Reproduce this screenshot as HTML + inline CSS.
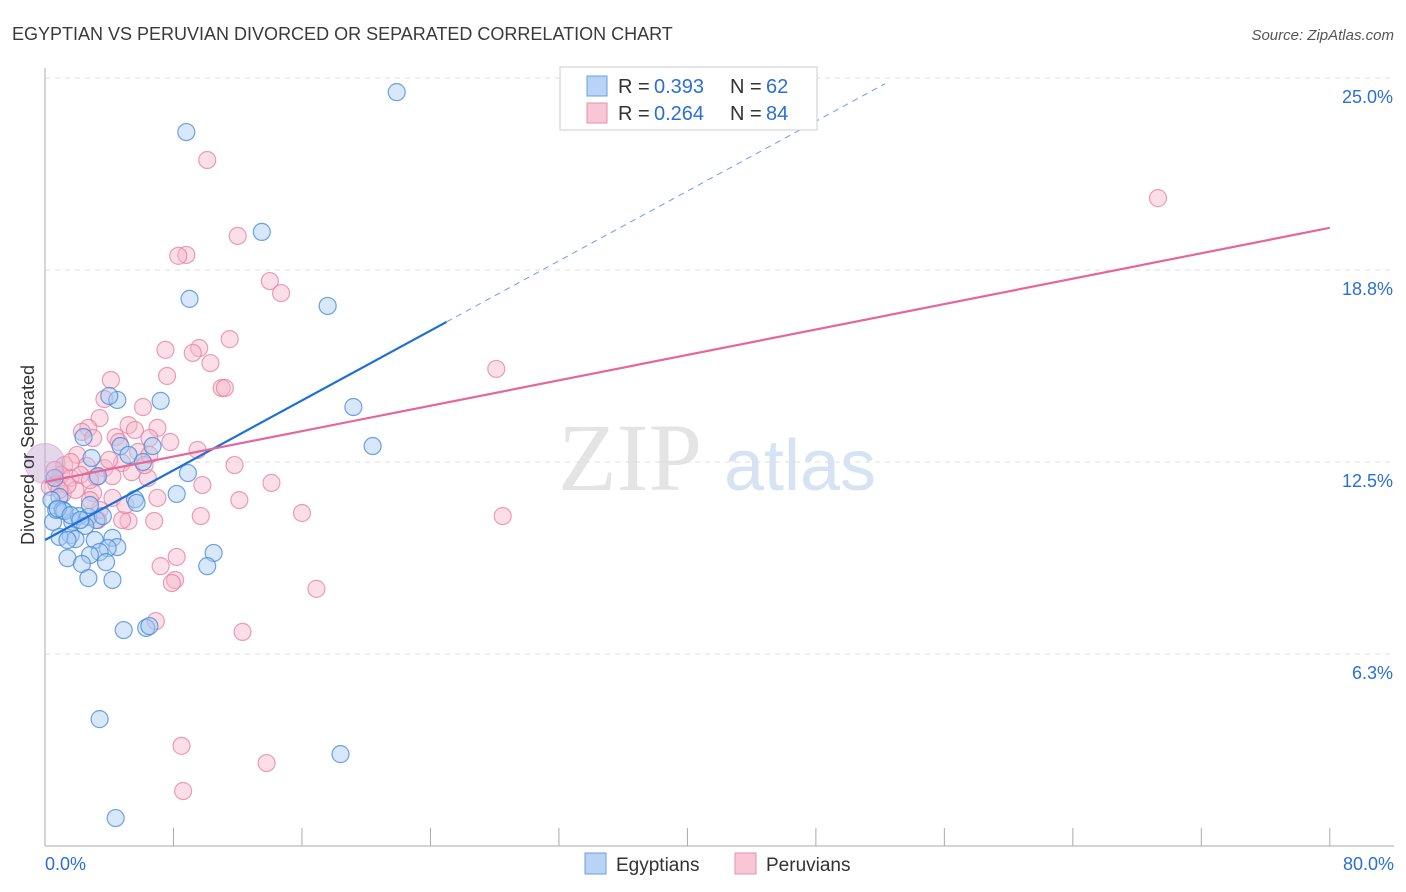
<!DOCTYPE html>
<html><head><meta charset="utf-8"><style>
body{margin:0;background:#fff;font-family:"Liberation Sans",sans-serif}
#wrap{position:relative;width:1406px;height:892px;overflow:hidden}
</style></head><body>
<div id="wrap">
<svg id="svg" width="1406" height="892" xmlns="http://www.w3.org/2000/svg">
<text x="12" y="40" font-size="18" fill="#3a3a3a">EGYPTIAN VS PERUVIAN DIVORCED OR SEPARATED CORRELATION CHART</text>
<text x="1394" y="40" font-size="15" fill="#555" text-anchor="end" font-style="italic">Source: ZipAtlas.com</text>
<text x="630" y="490" font-size="96" fill="#e4e4e4" font-family="Liberation Serif" text-anchor="middle">ZIP</text>
<text x="800" y="490" font-size="72" fill="#d6e3f3" text-anchor="middle">atlas</text>
<g id="grid"></g><g id="axes"></g><g id="pts"></g><g id="trend"></g>
<text transform="translate(34,455) rotate(-90)" font-size="18" fill="#333" text-anchor="middle">Divorced or Separated</text>
<g>
<rect x="560" y="67" width="257" height="63" fill="#fff" stroke="#ccc"/>
<rect x="587" y="76" width="20" height="20" fill="#b8d3f4" stroke="#6a9fe0"/>
<rect x="587" y="103" width="20" height="20" fill="#f9c6d6" stroke="#ea8fab"/>
<text x="618" y="93" font-size="20" fill="#333">R =</text>
<text x="654" y="93" font-size="20" fill="#2a6fd6">0.393</text>
<text x="730" y="93" font-size="20" fill="#333">N =</text>
<text x="766" y="93" font-size="20" fill="#2a6fd6">62</text>
<text x="618" y="120" font-size="20" fill="#333">R =</text>
<text x="654" y="120" font-size="20" fill="#2a6fd6">0.264</text>
<text x="730" y="120" font-size="20" fill="#333">N =</text>
<text x="766" y="120" font-size="20" fill="#2a6fd6">84</text>
</g>
<g>
<rect x="585" y="853" width="21" height="21" fill="#b8d3f4" stroke="#6a9fe0"/>
<text x="616" y="871" font-size="19" fill="#333">Egyptians</text>
<rect x="735" y="853" width="21" height="21" fill="#f9c6d6" stroke="#ea8fab"/>
<text x="766" y="871" font-size="19" fill="#333">Peruvians</text>
</g>
</svg>
</div>
<script>
const yTicks=[6.25,12.5,18.75,25];
const yTickLabels=["6.3%","12.5%","18.8%","25.0%"];
const xTickVals=[0,8,16,24,32,40,48,56,64,72,80];
const blueX=[21.9,8.8,13.5,9.0,17.6,19.2,20.4,7.2,4.5,4.0,2.4,4.7,6.7,5.2,6.1,8.9,8.2,5.6,5.7,2.9,3.3,0.6,0.9,0.4,0.5,0.7,1.1,1.7,2.1,2.7,3.2,2.5,1.6,0.9,1.9,3.1,4.2,4.5,3.9,3.4,2.8,1.4,2.3,3.8,10.5,10.1,2.7,4.2,4.9,6.3,6.5,3.4,18.4,4.4,3.6,1.2,0.8,1.6,2.2,2.8,1.4];
const blueY=[24.54,23.24,19.99,17.81,17.58,14.29,13.02,14.49,14.52,14.65,13.31,13.02,13.02,12.73,12.5,12.14,11.46,11.29,11.17,12.63,12.04,11.98,11.36,11.26,10.55,10.94,10.94,10.55,10.74,10.71,10.61,10.42,10.12,10.06,9.99,9.96,10.03,9.73,9.70,9.57,9.47,9.37,9.18,9.24,9.54,9.11,8.72,8.66,7.03,7.10,7.16,4.13,2.99,0.91,10.74,10.90,10.98,10.77,10.61,11.10,9.96];
const pinkX=[10.1,69.3,12.0,8.8,8.3,14.0,14.7,11.5,7.5,9.6,9.2,10.3,28.1,7.6,4.1,11.0,11.2,3.7,6.1,3.4,7.0,5.2,2.7,2.3,4.4,3.0,6.5,7.8,4.6,9.5,5.8,11.8,2.0,1.2,2.6,3.7,4.8,1.0,1.6,4.2,6.4,3.2,5.4,14.1,9.8,0.7,0.3,1.1,1.9,3.0,7.0,12.1,4.2,16.0,28.5,6.8,5.2,4.8,9.7,3.3,8.2,7.2,8.1,7.9,16.9,6.9,12.3,8.5,13.8,8.6,0.6,1.4,2.2,0.9,1.6,2.8,4.0,5.6,6.5,3.4,5.0,2.8,6.2];
const pinkY=[22.33,21.09,19.86,19.24,19.21,18.39,18.0,16.5,16.15,16.21,16.05,15.72,15.53,15.3,15.17,14.91,14.91,14.55,14.29,13.93,13.61,13.7,13.61,13.48,13.31,13.28,13.28,13.15,13.15,12.89,12.83,12.4,12.73,12.4,12.37,12.3,12.47,12.08,11.98,12.04,11.98,12.01,12.17,11.82,11.75,11.78,11.69,11.46,11.59,11.49,11.33,11.26,11.33,10.84,10.74,10.58,10.58,10.61,10.74,10.61,9.41,9.11,8.66,8.56,8.37,7.32,6.97,3.26,2.7,1.79,12.24,11.75,12.08,11.59,12.5,11.91,12.57,13.54,12.73,10.94,11.1,11.26,12.4];
const blueTrend=[9.96,0.284];
const pinkTrend=[11.85,0.1034];
const NS='http://www.w3.org/2000/svg';
const X=v=>45+v*16.06, Y=v=>846-v*30.72;
function mk(t,a,p){const e=document.createElementNS(NS,t);for(const k in a)e.setAttribute(k,a[k]);document.getElementById(p).appendChild(e);return e;}
yTicks.forEach((t,i)=>{
 const l=mk('line',{x1:45,x2:1394,y1:Y(t),y2:Y(t),stroke:'#ddd','stroke-dasharray':'5,5'},'grid');
 
 
 const tx=mk('text',{x:1393,y:Y(t)+25,'font-size':18,fill:'#2a6fd6','text-anchor':'end'},'axes');
 tx.textContent=yTickLabels[i];
 
 
});
mk('line',{x1:45,x2:45,y1:68,y2:846,stroke:'#aaa'},'axes');
mk('line',{x1:45,x2:1394,y1:846,y2:846,stroke:'#aaa'},'axes');
xTickVals.forEach(v=>{const l=mk('line',{x1:X(v),x2:X(v),y1:828,y2:846,stroke:'#aaa'},'axes');
 
 });
let a=mk('text',{x:45,y:870,'font-size':18,fill:'#2a6fd6'},'axes');a.textContent='0.0%';


a=mk('text',{x:1394,y:870,'font-size':18,fill:'#2a6fd6','text-anchor':'end'},'axes');a.textContent='80.0%';


function pts(xs,ys,f,s,name){xs.forEach((x,i)=>{const c=mk('circle',{cx:X(x),cy:Y(ys[i]),r:8.5,fill:f,'fill-opacity':0.45,stroke:s,'stroke-opacity':0.75,'stroke-width':1.2},'pts');
 
 });}
pts(pinkX,pinkY,'#f7b6ca','#e57fa0','peruvian-point');
pts(blueX,blueY,'#a9c9f2','#3f86dc','egyptian-point');
const big=mk('circle',{cx:X(0),cy:Y(12.45),r:20,fill:'#c9b0d8','fill-opacity':0.5,stroke:'#e39ab5','stroke-opacity':0.6},'pts');


let t=mk('line',{x1:X(0),y1:Y(blueTrend[0]),x2:X(25),y2:Y(blueTrend[0]+25*blueTrend[1]),stroke:'#1f6fd8','stroke-width':2.2},'trend');


t=mk('line',{x1:X(25),y1:Y(blueTrend[0]+25*blueTrend[1]),x2:X(52.3),y2:Y(blueTrend[0]+52.3*blueTrend[1]),stroke:'#6a9fe0','stroke-width':1,'stroke-dasharray':'6,5'},'trend');


t=mk('line',{x1:X(0),y1:Y(pinkTrend[0]),x2:X(80),y2:Y(pinkTrend[0]+80*pinkTrend[1]),stroke:'#e5679a','stroke-width':2.2},'trend');


</script>
</body></html>
